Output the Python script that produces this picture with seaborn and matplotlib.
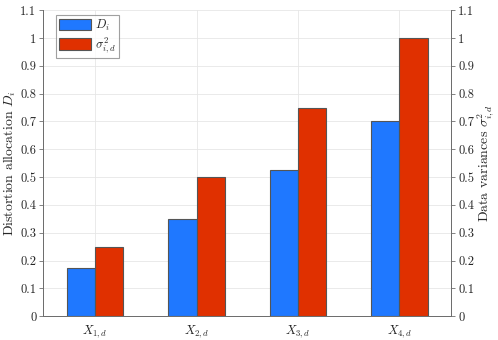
import pandas as pd
import matplotlib
matplotlib.use("Agg")
import matplotlib.pyplot as plt
import matplotlib.ticker as mticker
import seaborn as sns

# data
categories = ['$X_{1,d}$', '$X_{2,d}$', '$X_{3,d}$', '$X_{4,d}$']
distortion = [0.175, 0.35, 0.525, 0.7]
variances = [0.25, 0.5, 0.75, 1.0]
series_names = ['$D_i$', '$\\sigma^2_{i,d}$']

df = pd.DataFrame({
    'cat': categories * 2,
    'val': distortion + variances,
    'series': [series_names[0]] * 4 + [series_names[1]] * 4,
})

sns.set_style('white')
plt.rcParams['font.family'] = ['serif']
plt.rcParams['font.serif'] = ['cmr10', 'DejaVu Serif']
plt.rcParams['mathtext.fontset'] = 'cm'
plt.rcParams['axes.formatter.use_mathtext'] = True

blue = '#1f78ff'
red = '#e03000'
axis_col = '#6e6e6e'

fig = plt.figure(figsize=(4.98, 3.40), dpi=100)
ax = fig.add_axes([0.087, 0.07, 0.819, 0.9])

sns.barplot(data=df, x='cat', y='val', hue='series', palette=[blue, red],
            saturation=1, width=0.56, edgecolor='#555555', linewidth=0.8, ax=ax)

ax.set_xlim(-0.51, 3.51)
ax.set_ylim(0, 1.1)
yt = [i / 10 for i in range(12)]
fmt = mticker.FuncFormatter(lambda v, p: '%g' % round(v, 2))
ax.set_yticks(yt)
ax.yaxis.set_major_formatter(fmt)
ax.set_xlabel('')
ax.set_ylabel('Distortion allocation $D_i$', fontsize=10, labelpad=2)
ax.grid(True, color='#e6e6e6', linewidth=0.6)
ax.set_axisbelow(True)
ax.tick_params(axis='both', labelsize=9, direction='out', length=3,
               color=axis_col, width=0.6, pad=2)

ax2 = ax.twinx()
ax2.set_ylim(0, 1.1)
ax2.set_yticks(yt)
ax2.yaxis.set_major_formatter(fmt)
ax2.set_ylabel('Data variances $\\sigma^2_{i,d}$', fontsize=10, labelpad=1)
ax2.tick_params(axis='y', labelsize=9, direction='out', length=3,
                color=axis_col, width=0.6, pad=2)

for a in (ax, ax2):
    a.spines['top'].set_visible(False)
    for s in ('left', 'right', 'bottom'):
        a.spines[s].set_color(axis_col)
        a.spines[s].set_linewidth(0.7)

leg = ax.legend(loc='upper left', bbox_to_anchor=(0.03, 0.985), fontsize=9,
                frameon=True, fancybox=False, edgecolor='#888888',
                handlelength=2.6, handleheight=1.0, borderpad=0.25,
                labelspacing=0.2, handletextpad=0.3, borderaxespad=0)
leg.get_frame().set_linewidth(0.8)

fig.savefig('out.png', dpi=100)
